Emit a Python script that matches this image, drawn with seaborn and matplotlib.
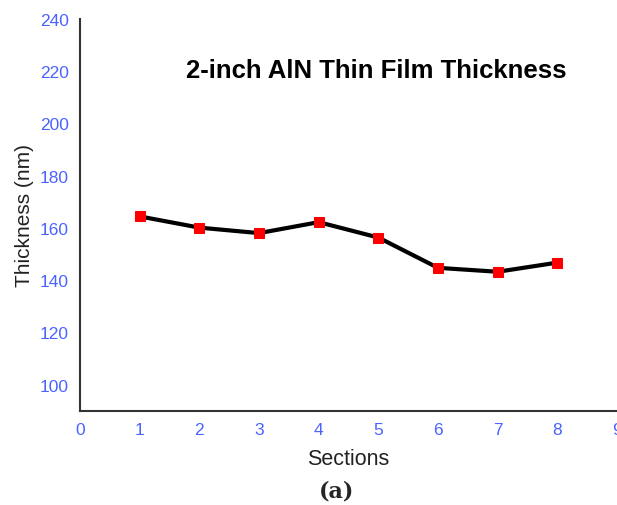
import matplotlib
matplotlib.use("Agg")
import matplotlib.pyplot as plt
import seaborn as sns
import pandas as pd

sections = [1, 2, 3, 4, 5, 6, 7, 8]
thickness = [164.4, 160.1, 158.0, 162.2, 156.3, 144.7, 143.2, 146.7]
x_ticks = [0, 1, 2, 3, 4, 5, 6, 7, 8, 9]
y_ticks = [100, 120, 140, 160, 180, 200, 220, 240]

sns.set_style("white")
plt.rcParams['font.family'] = ['Liberation Sans', 'DejaVu Sans']

df = pd.DataFrame({"Sections": sections, "Thickness": thickness})

fig = plt.figure(figsize=(6.17, 5.06), dpi=100)
ax = fig.add_axes([0.1297, 0.1864, 0.8703, 0.7741])

sns.lineplot(data=df, x="Sections", y="Thickness", ax=ax, color="black",
             linewidth=3, marker="s", markersize=6.5, markerfacecolor="red",
             markeredgecolor="red", zorder=3)

ax.set_xlim(0, 9)
ax.set_ylim(90, 240)
ax.set_xticks(x_ticks)
ax.set_yticks(y_ticks)
tick_color = "#4a63ff"
ax.tick_params(axis="both", length=0, labelsize=12.5, colors=tick_color, pad=8)
for s in ["top", "right"]:
    ax.spines[s].set_visible(False)
for s in ["left", "bottom"]:
    ax.spines[s].set_color("#333333")
    ax.spines[s].set_linewidth(1.5)

ax.set_xlabel("Sections", fontsize=15.5, color="#222222", labelpad=8)
ax.set_ylabel("Thickness (nm)", fontsize=15, color="#222222", labelpad=4)

ax.text(4.97, 220.5, "2-inch AlN Thin Film Thickness", ha="center", va="center",
        fontsize=18.5, fontweight="bold", color="black")

fig.text(0.546, 0.006, "(a)", ha="center", va="bottom", fontsize=16,
         fontweight="bold", family=["DejaVu Serif"])

fig.savefig("out.png", dpi=100)
